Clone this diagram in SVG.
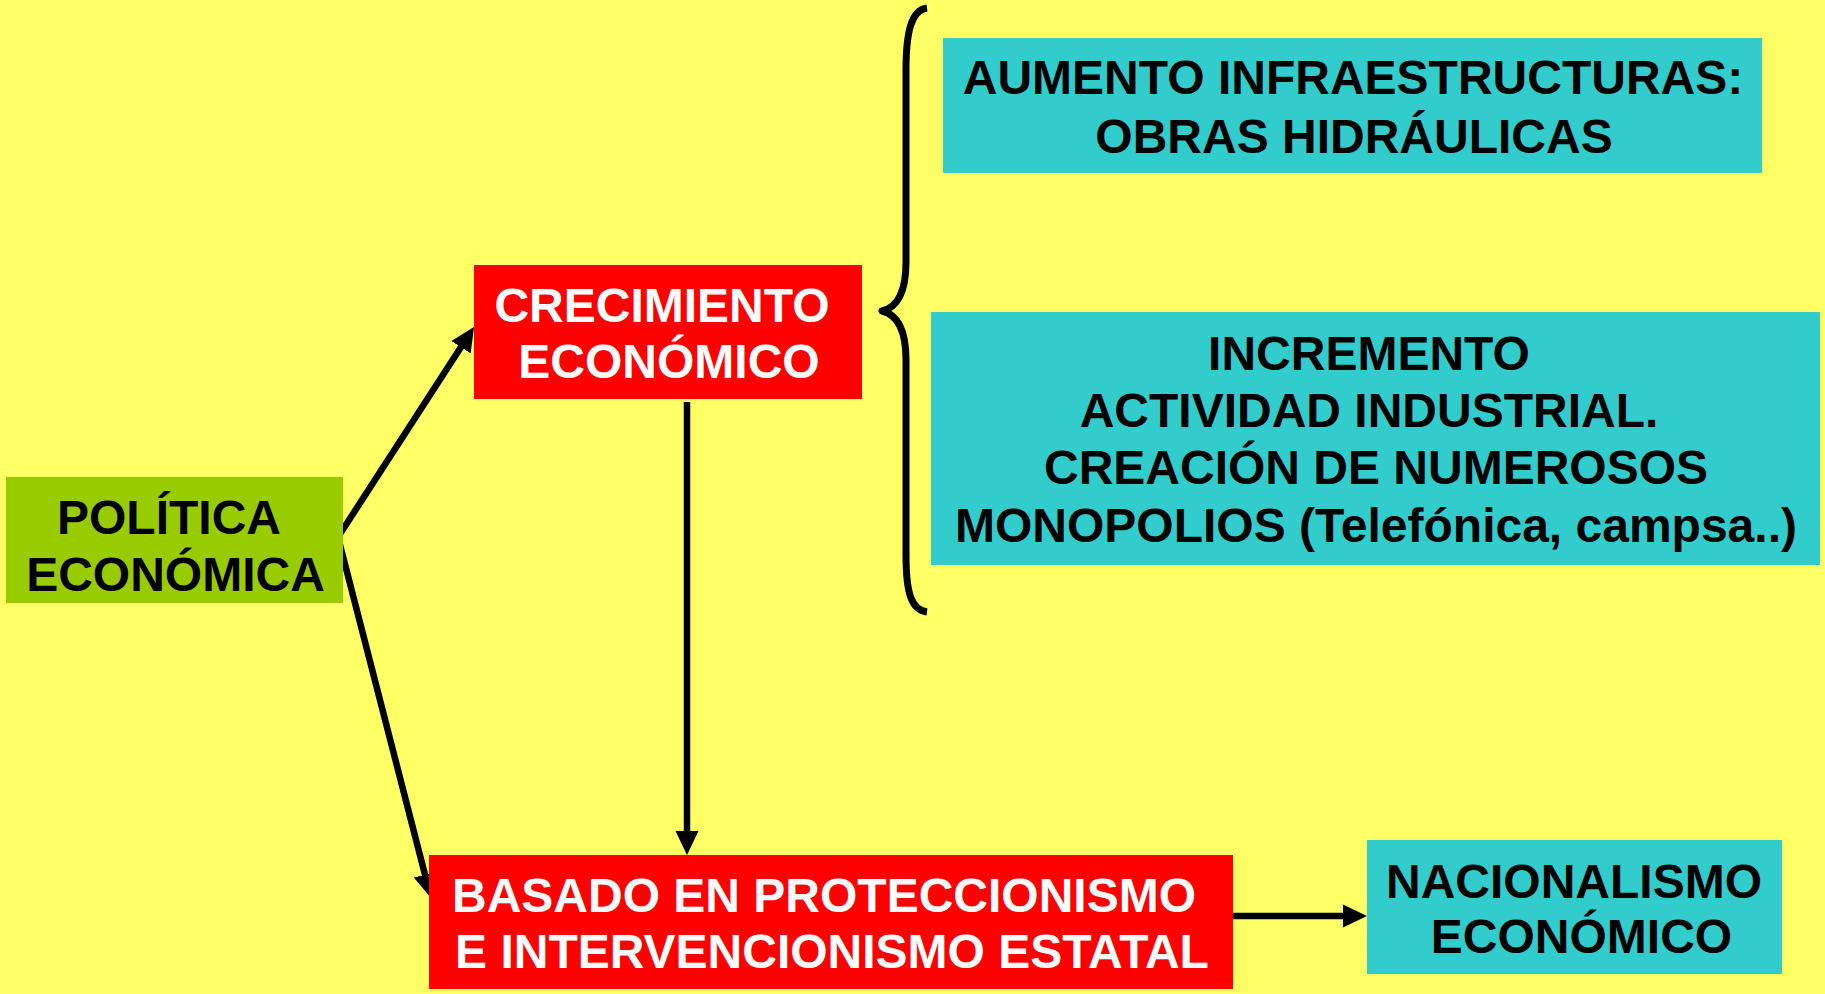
<svg xmlns="http://www.w3.org/2000/svg" width="1825" height="994" viewBox="0 0 1825 994">
<style>
  .t { font-family: "Liberation Sans", Arial, sans-serif; font-weight: bold; font-size: 48px; text-anchor: middle; }
  .dark { fill: #000000; }
  .light { fill: #FFFFFF; }
  .green { fill: #99CC00; }
  .red { fill: #FF0000; }
  .cyan { fill: #33CCCC; }
  .conn { fill: none; stroke: #000000; stroke-width: 6.5; stroke-linejoin: miter; }
  .brace { fill: none; stroke: #000000; stroke-width: 7; stroke-linejoin: round; }
</style>
<defs>
  <marker id="ah" markerUnits="userSpaceOnUse" markerWidth="24" markerHeight="24" viewBox="0 0 24 24" refX="12" refY="12" orient="auto-start-reverse">
    <path d="M0,0.5 L24,12 L0,23.5 z" fill="#000000"/>
  </marker>
</defs>
<rect x="0" y="0" width="1825" height="994" fill="#FFFF66"/>

<g id="connectors">
  <path class="conn" d="M467.5,337.1 L338,537 L428,886.4" marker-start="url(#ah)" marker-end="url(#ah)"/>
  <path class="conn" d="M687,402 L687,843" marker-end="url(#ah)"/>
  <path class="conn" d="M1233,916 L1355,916" marker-end="url(#ah)"/>
  <path class="brace" d="M927,8 C912,10 906,30 906,70 L906,262 C906,295 895,308 882,311 C895,314 906,327 906,360 L906,555 C906,595 912,610 927,612"/>
</g>

<g id="politica-economica">
  <rect class="green" x="6" y="477" width="337" height="126"/>
  <text class="t dark" x="169" y="534">POLÍTICA</text>
  <text class="t dark" x="175.5" y="591">ECONÓMICA</text>
</g>

<g id="crecimiento-economico">
  <rect class="red" x="474" y="265" width="388" height="134"/>
  <text class="t light" x="662" y="322">CRECIMIENTO</text>
  <text class="t light" x="669" y="378">ECONÓMICO</text>
</g>

<g id="aumento-infraestructuras">
  <rect class="cyan" x="943" y="38" width="819" height="135"/>
  <text class="t dark" x="1353" y="94">AUMENTO INFRAESTRUCTURAS:</text>
  <text class="t dark" x="1354" y="153">OBRAS HIDRÁULICAS</text>
</g>

<g id="incremento-actividad">
  <rect class="cyan" x="931" y="312" width="889" height="253"/>
  <text class="t dark" x="1369" y="370">INCREMENTO</text>
  <text class="t dark" x="1369" y="427">ACTIVIDAD INDUSTRIAL.</text>
  <text class="t dark" x="1376" y="484">CREACIÓN DE NUMEROSOS</text>
  <text class="t dark" x="1376" y="542">MONOPOLIOS (Telefónica, campsa..)</text>
</g>

<g id="proteccionismo">
  <rect class="red" x="429" y="855" width="804" height="134"/>
  <text class="t light" x="824" y="912">BASADO EN PROTECCIONISMO</text>
  <text class="t light" x="832" y="968">E INTERVENCIONISMO ESTATAL</text>
</g>

<g id="nacionalismo-economico">
  <rect class="cyan" x="1367" y="840" width="415" height="134"/>
  <text class="t dark" x="1574" y="898">NACIONALISMO</text>
  <text class="t dark" x="1581.5" y="953">ECONÓMICO</text>
</g>
</svg>
